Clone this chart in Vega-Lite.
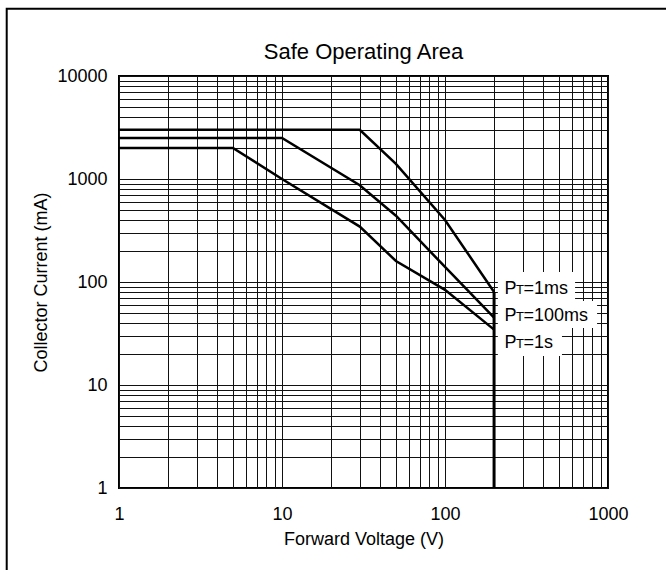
{
  "$schema": "https://vega.github.io/schema/vega-lite/v6.json",
  "width": 489,
  "height": 412,
  "autosize": "none",
  "padding": {"left": 119, "top": 76, "right": 58, "bottom": 82},
  "background": "white",
  "title": {"text": "Safe Operating Area", "font": "Liberation Sans", "fontSize": 22, "fontWeight": "normal", "color": "black", "offset": -56, "anchor": "middle", "frame": "group"},
  "config": {
    "view": {"stroke": "black", "strokeWidth": 2},
    "axis": {
      "grid": true,
      "gridColor": "#111111",
      "gridWidth": 1,
      "gridOpacity": 1,
      "ticks": false,
      "domain": false,
      "labelFont": "Liberation Sans",
      "labelFontSize": 18,
      "labelColor": "black",
      "labelOverlap": false,
      "labelFlush": false,
      "titleFont": "Liberation Sans",
      "titleFontSize": 18,
      "titleFontWeight": "normal",
      "titleColor": "black"
    }
  },
  "datasets": {
    "frame": [{"x": 0.2047, "y": 44900, "x2": 100000, "y2": 0.001}],
    "boxes": [
      {"dur": "1ms", "x": 211, "x2": 628, "y": 125, "y2": 65.4},
      {"dur": "100ms", "x": 211, "x2": 857, "y": 65.4, "y2": 35.8},
      {"dur": "1s", "x": 211, "x2": 522, "y": 35.8, "y2": 19.1}
    ],
    "curves": [
      {"series": "1ms", "x": 1, "y": 3000},
      {"series": "1ms", "x": 30, "y": 3000},
      {"series": "1ms", "x": 50, "y": 1400},
      {"series": "1ms", "x": 100, "y": 400},
      {"series": "1ms", "x": 200, "y": 80},
      {"series": "100ms", "x": 1, "y": 2500},
      {"series": "100ms", "x": 10, "y": 2500},
      {"series": "100ms", "x": 30, "y": 870},
      {"series": "100ms", "x": 50, "y": 440},
      {"series": "100ms", "x": 100, "y": 140},
      {"series": "100ms", "x": 200, "y": 45},
      {"series": "1s", "x": 1, "y": 2000},
      {"series": "1s", "x": 5, "y": 2000},
      {"series": "1s", "x": 10, "y": 1000},
      {"series": "1s", "x": 30, "y": 345},
      {"series": "1s", "x": 50, "y": 160},
      {"series": "1s", "x": 100, "y": 84},
      {"series": "1s", "x": 200, "y": 34.5}
    ],
    "limit": [{"x": 200, "y": 80, "y2": 1}],
    "labels": [
      {"dur": "=1ms", "x": 232, "y": 77},
      {"dur": "=100ms", "x": 232, "y": 41.6},
      {"dur": "=1s", "x": 232, "y": 22.9}
    ]
  },
  "encoding": {
    "x": {
      "field": "x",
      "type": "quantitative",
      "scale": {"type": "log", "domain": [1, 1000], "nice": false},
      "title": "Forward Voltage (V)",
      "axis": {
        "values": [1, 2, 3, 4, 5, 6, 7, 8, 9, 10, 20, 30, 40, 50, 60, 70, 80, 90, 100, 200, 300, 400, 500, 600, 700, 800, 900, 1000],
        "format": "d",
        "labelExpr": "datum.value == 1 || datum.value == 10 || datum.value == 100 || datum.value == 1000 ? datum.label : ''",
        "labelPadding": 17,
        "titlePadding": 7
      }
    },
    "y": {
      "field": "y",
      "type": "quantitative",
      "scale": {"type": "log", "domain": [1, 10000], "nice": false},
      "title": "Collector Current (mA)",
      "axis": {
        "values": [1, 2, 3, 4, 5, 6, 7, 8, 9, 10, 20, 30, 40, 50, 60, 70, 80, 90, 100, 200, 300, 400, 500, 600, 700, 800, 900, 1000, 2000, 3000, 4000, 5000, 6000, 7000, 8000, 9000, 10000],
        "format": "d",
        "labelExpr": "datum.value == 1 || datum.value == 10 || datum.value == 100 || datum.value == 1000 || datum.value == 10000 ? datum.label : ''",
        "labelPadding": 12,
        "titlePadding": 6
      }
    }
  },
  "layer": [
    {
      "data": {"name": "frame"},
      "mark": {"type": "rect", "fill": "white", "fillOpacity": 0, "stroke": "black", "strokeWidth": 2, "clip": false},
      "encoding": {
        "x2": {"field": "x2"},
        "y2": {"field": "y2"}
      }
    },
    {
      "data": {"name": "boxes"},
      "mark": {"type": "rect", "fill": "white", "stroke": null},
      "encoding": {
        "x2": {"field": "x2"},
        "y2": {"field": "y2"}
      }
    },
    {
      "data": {"name": "curves"},
      "mark": {"type": "line", "color": "black", "strokeWidth": 2.5, "strokeJoin": "miter"},
      "encoding": {
        "detail": {"field": "series", "type": "nominal"}
      }
    },
    {
      "data": {"name": "limit"},
      "mark": {"type": "rule", "color": "black", "strokeWidth": 3},
      "encoding": {
        "y2": {"field": "y2"}
      }
    },
    {
      "data": {"name": "labels"},
      "mark": {"type": "text", "text": "P", "align": "left", "baseline": "alphabetic", "font": "Liberation Sans", "fontSize": 18, "color": "black"}
    },
    {
      "data": {"name": "labels"},
      "mark": {"type": "text", "text": "T", "align": "left", "baseline": "alphabetic", "font": "Liberation Sans", "fontSize": 13, "color": "black", "dx": 11.5}
    },
    {
      "data": {"name": "labels"},
      "mark": {"type": "text", "align": "left", "baseline": "alphabetic", "font": "Liberation Sans", "fontSize": 18, "color": "black", "dx": 19},
      "encoding": {
        "text": {"field": "dur", "type": "nominal"}
      }
    }
  ]
}
